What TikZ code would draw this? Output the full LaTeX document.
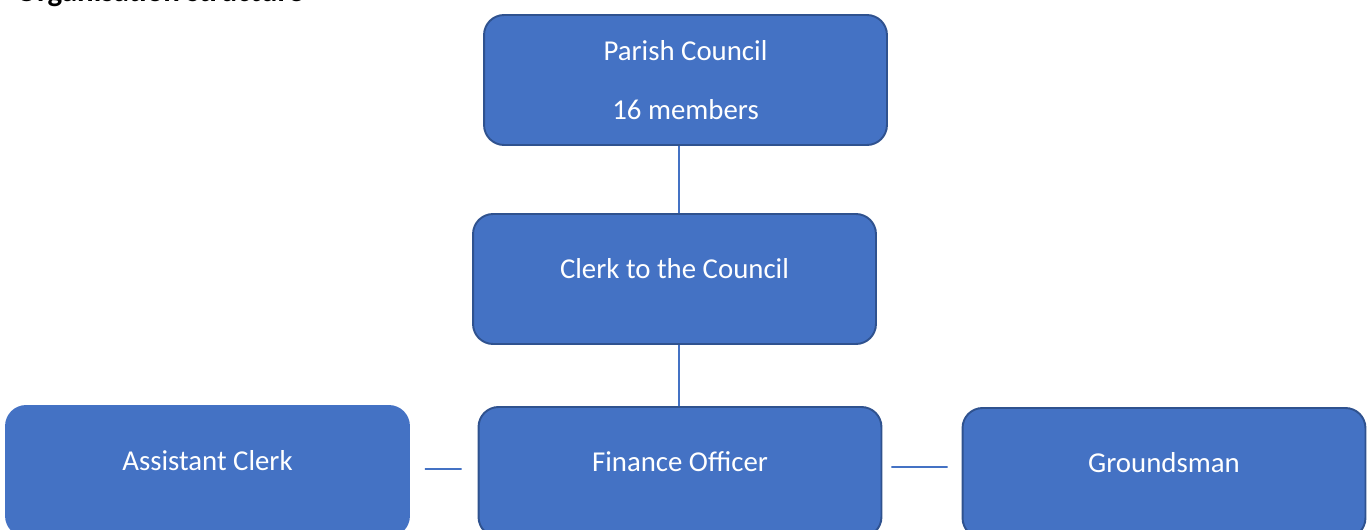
\documentclass[tikz,border=0pt]{standalone}
\usepackage{fontspec}
\setmainfont{Carlito}
\definecolor{bx}{HTML}{4472C4}
\definecolor{bd}{HTML}{2F528F}
\usepackage{tikz}

\begin{document}
\begin{tikzpicture}[
      x=.02cm, y=-.02cm,
      every node/.style={font=\fontsize{16.4}{19.7}\selectfont},
      unit/.style={draw=bd, line width=1.1pt, fill=bx, text=white,
                   rounded corners=.4cm, inner sep=0pt,
                   minimum width=8.06cm, minimum height=2.6cm,
                   text height=10pt, text depth=10pt},
      link/.style={draw=bx, line width=.9pt}]
        \useasboundingbox (0,0) rectangle (1367,530);
        \clip (0,0) rectangle (1367,530);

        \node[anchor=base west, font=\fontsize{17.6}{21}\selectfont\bfseries]
          (title) at (10,2) {Organisation structure};

        \node[unit, text height=, text depth=, align=center] (council) at (685.5,80)
          {Parish Council\\[14pt]16 members};
        \node[unit] (clerk) at (674.5,279) {Clerk to the Council};

        {
        \node[unit, draw=bx] (assistant) at (207.5,471) {Assistant Clerk};
        \node[unit] (finance) at (680,472) {Finance Officer};
        \node[unit] (grounds) at (1164,473) {Groundsman};
        }

        % spine
        \coordinate (spine) at (679,0);
        \draw[link] (spine |- council.south) -- (spine |- clerk.north);
        \draw[link] (spine |- clerk.south) -- (spine |- finance.north);

        % side links, not touching the boxes
        \draw[link] ([xshift=.3cm, yshift=.04cm]assistant.east) -- ([xshift=-.32cm, yshift=.06cm]finance.west);
        \draw[link] ([xshift=.18cm, yshift=.1cm]finance.east) -- ([xshift=-.28cm, yshift=.12cm]grounds.west);

      \end{tikzpicture}
\end{document}
